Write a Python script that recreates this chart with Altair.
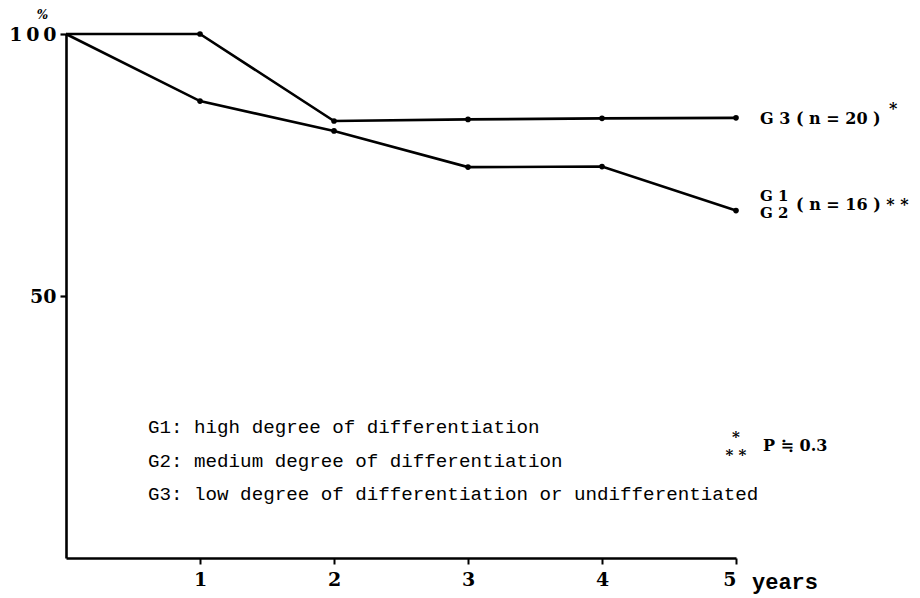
import altair as alt
import pandas as pd

years = [0, 1, 2, 3, 4, 5]
g3_values = [100, 100, 83.4, 83.7, 83.9, 84.0]
g12_values = [100, 87.2, 81.5, 74.6, 74.7, 66.3]
y_ticks = [50, 100]
x_ticks = [1, 2, 3, 4, 5]

legend_lines = [
    "G1:  high degree of differentiation",
    "G2:  medium degree of differentiation",
    "G3:  low degree of differentiation or undifferentiated",
]
legend_y = [25.0, 18.5, 12.2]

rows = []
for x, v in zip(years, g3_values):
    rows.append({"year": x, "pct": v, "group": "G3"})
for x, v in zip(years, g12_values):
    rows.append({"year": x, "pct": v, "group": "G12"})
df = pd.DataFrame(rows)

SERIF = "DejaVu Serif"
MONO = "Liberation Mono"

xscale = alt.Scale(domain=[0, 5], nice=False, zero=False)
yscale = alt.Scale(domain=[0, 100], nice=False)

base = alt.Chart(df)

lines = base.mark_line(color="black", strokeWidth=2.6).encode(
    x=alt.X("year:Q", scale=xscale,
            axis=alt.Axis(values=x_ticks, format="d", title=None, grid=False,
                          domainColor="black", domainWidth=2.6, tickColor="black",
                          tickWidth=2, tickSize=6, labelFont=SERIF, labelFontSize=19,
                          labelFontWeight="bold", labelColor="black", labelPadding=6)),
    y=alt.Y("pct:Q", scale=yscale,
            axis=alt.Axis(values=y_ticks, title="%", titleAngle=0, titleFont=SERIF,
                          titleFontSize=12, titleFontWeight="bold", titleFontStyle="italic",
                          titleX=-24, titleY=-20, titleAlign="center",
                          titleBaseline="middle", titleColor="black",
                          grid=False, domainColor="black", domainWidth=2.6,
                          tickColor="black", tickWidth=2.2, tickSize=6,
                          labelExpr="length(datum.label) > 2 ? join(split(datum.label, ''), '\u2009') : datum.label",
                          labelFont=SERIF, labelFontSize=19, labelFontWeight="bold",
                          labelColor="black", labelPadding=4)),
    detail="group:N",
)

points = base.transform_filter("datum.year > 0").mark_circle(
    color="black", size=32, opacity=1
).encode(x=alt.X("year:Q", scale=xscale), y=alt.Y("pct:Q", scale=yscale))

g3_end = pd.DataFrame({"year": [years[-1]], "pct": [g3_values[-1]]})
g12_end = pd.DataFrame({"year": [years[-1]], "pct": [g12_values[-1]]})


def txt(data, text, dx, dy, font=SERIF, size=16, weight="bold", align="left"):
    return alt.Chart(data).mark_text(
        text=text, dx=dx, dy=dy, font=font, fontSize=size, fontWeight=weight,
        align=align, baseline="middle", color="black"
    ).encode(x=alt.X("year:Q", scale=xscale), y=alt.Y("pct:Q", scale=yscale))


g3_label = txt(g3_end, "G 3 ( n = 20 )", 24, 1)
g3_star = txt(g3_end, "*", 153, -9, size=16)
g1_label = txt(g12_end, "G 1", 24, -15, size=15)
g2_label = txt(g12_end, "G 2", 24, 2, size=15)
g12_label = txt(g12_end, "( n = 16 ) * *", 60, -6)

legend_df = pd.DataFrame({"year": [0] * 3, "pct": legend_y, "text": legend_lines})
legend = alt.Chart(legend_df).mark_text(
    dx=82, align="left", baseline="middle", font=MONO, fontSize=19.2, color="black"
).encode(x=alt.X("year:Q", scale=xscale), y=alt.Y("pct:Q", scale=yscale), text="text:N")

p_anchor = pd.DataFrame({"year": [5], "pct": [21.3]})
p_star1 = txt(p_anchor, "*", 0, -9, align="center", size=15)
p_star2 = txt(p_anchor, "* *", 0, 9, align="center", size=15)
p_text = txt(p_anchor, "P ≒ 0.3", 27, 0, size=16)

years_anchor = pd.DataFrame({"year": [5], "pct": [0]})
years_text = txt(years_anchor, "years", 16, 24, font=MONO, size=22)

chart = alt.layer(
    lines, points, g3_label, g3_star, g1_label, g2_label, g12_label,
    legend, p_star1, p_star2, p_text, years_text
).properties(
    width=670, height=524,
    autosize=alt.AutoSizeParams(type="none"),
    padding={"left": 58, "top": 26, "right": 176, "bottom": 38},
    background="white",
).configure_view(stroke=None)

chart.save("out.html", embed_options={"renderer": "svg", "actions": False})
